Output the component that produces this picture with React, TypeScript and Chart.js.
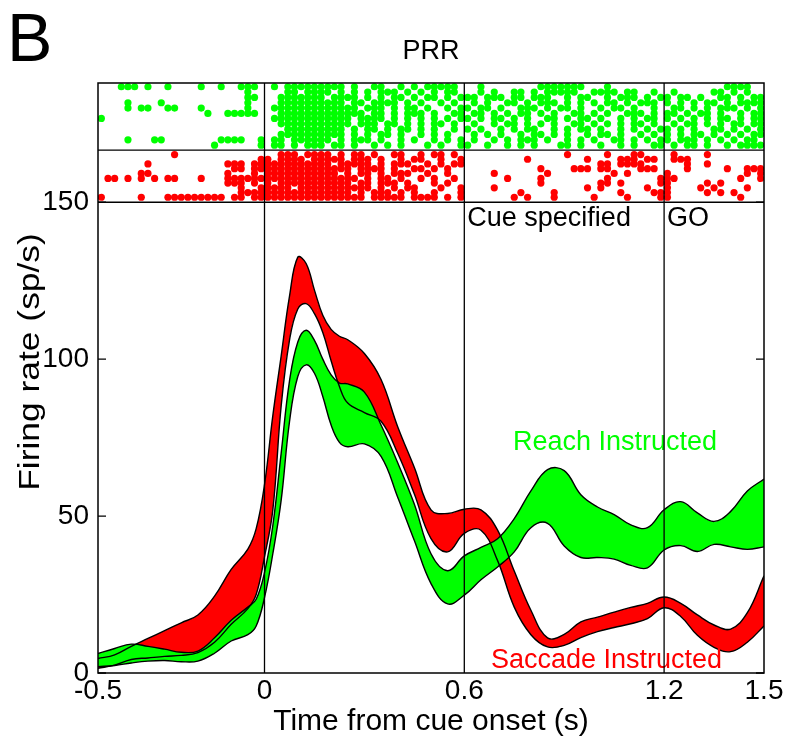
import React, { useEffect, useRef } from 'react';
import { Chart, registerables } from 'chart.js';

Chart.register(...registerables);

const FONT = "'Liberation Sans', Arial, Helvetica, sans-serif";

// ---- firing-rate bands (sp/s) on a shared time grid (s) ----
const timeGrid = [-0.5, -0.45, -0.4, -0.35, -0.3, -0.25, -0.2, -0.15, -0.1, -0.05, -0.025, 0, 0.025, 0.05, 0.075, 0.1, 0.125, 0.15, 0.175, 0.2, 0.225, 0.25, 0.3, 0.35, 0.4, 0.45, 0.5, 0.55, 0.6, 0.65, 0.7, 0.75, 0.8, 0.85, 0.9, 0.95, 1.0, 1.05, 1.1, 1.15, 1.2, 1.25, 1.3, 1.35, 1.4, 1.45, 1.5];

const reachUpper = [6.2, 7.8, 9.2, 8.5, 7.6, 6.6, 7.0, 11.2, 16.8, 21, 23.5, 32, 47, 70, 93, 105.5, 109.2, 106, 100, 95, 92.4, 92.1, 89.5, 79, 67, 53.8, 38, 32.6, 37.3, 40, 42.8, 49.2, 58, 64.8, 64.5, 56.8, 52.9, 50.5, 47.2, 46.3, 52, 54.6, 51, 48.3, 51.5, 58, 61.8];
const reachLower = [2, 2.4, 3.2, 3.8, 4.0, 3.6, 3.8, 6.3, 10.2, 12.2, 15, 24, 38, 55, 80, 94.5, 98.2, 95.5, 88.1, 79, 73.5, 72.1, 73, 69, 56, 42.2, 28.5, 22, 24.8, 29.7, 33.8, 38.6, 46.3, 47.7, 40.5, 36.8, 36.8, 36.3, 34.3, 33.5, 39.2, 40.6, 38.7, 41, 40.2, 39.4, 40.2];
const saccadeUpper = [4.6, 5.8, 8.5, 11, 13.5, 16, 18.5, 24.5, 33, 39.5, 46, 60, 82, 101, 120, 132.5, 130.5, 122, 114, 109.5, 107.3, 106.2, 101.8, 93.5, 78.5, 65.5, 52, 50.8, 52.2, 52, 45.5, 32.5, 20, 11.2, 12.3, 16.3, 17.8, 19.4, 20.9, 22.2, 24.2, 22.2, 18.5, 15.3, 14, 19.2, 31];
const saccadeLower = [1.5, 2.5, 4.3, 4.8, 5.3, 5.6, 6.5, 9.8, 15.5, 20.5, 25, 37, 52, 85, 106, 116, 117.7, 114.5, 108.5, 99.5, 91.3, 86, 83, 80.2, 70, 57, 42.8, 38.6, 44.5, 45.5, 35.8, 21, 12.2, 8.3, 8.8, 11.3, 13.2, 14.5, 15.7, 17.3, 20.8, 18, 12, 8.2, 6.8, 9.8, 15];

// ---- raster: one string per trial row, '#' = spike in a 20 ms bin ----
// segments: [-0.5,0) | [0,0.6) | [0.6,1.2) | [1.2,1.5)
const segmentStarts = [-0.5, 0, 0.6, 1.2];
const spikeBin = 0.02;

const reachRows = [
  '...###.#..#....#..#..###.|.#.#########.#..##..#.#.#####.|..#........#######...#........|.........####..',
  '......................#..|...##.####.#.#.#.###.#.#.#.##.|..#.#..##.#.#####..####.##..#.|.#.....##.#.#..',
  '......................##.|..#######.####.#.#.##.#.##.#.#|##.###.##.###..#.##..#.###.#.#|#.##.#..##.#.##',
  '....#....#............#..|..##########.##.####.#.#..#.#.|.#.#..##.#.###.#.#.#.##.#.###|#.#.#.##.#.####',
  '....#.##..##...#......#..|.#############.###.#.##.#..#.#|#.##.#..###.#.##.#..#.##.#..#.|.##.#.#.###.#.#',
  '................#..#####.|..#############.##.#.###.#..##|.##.#.#.##.#.#..##.#.#..###.#.|##.#.##.#..#.##',
  '#........................|.############.####.#.#.#.#.#.#|#.#.##.#.#..##.#.##.#..#.#.##.|#.#.#.#.##.#.##',
  '.........................|..###########.###.##.#.#.##.#.|.#..#.##.#.#.#..##.#.#.#.##.#.|.#.##.#.#.##.##',
  '.........................|...#########.#.##.#.##.#.#..#.|#.#..#.#.##..#.#.##.#..#.#.#.#|#.#.#..##.#.#.#',
  '.........................|..##########.#.#.##.#..#.#.#..|.#.#.#..#.##.#.#..#.##.#..#.#.|#.#.##.#.#.#.##',
  '....#...##........####..#|.##.######.#.###.#..#.#..#.#.#|.#..#.#.###.#..#.#.#..##.#.#.#|#.###.#.#.#.##.',
  '.................#......#|.##.#.###.##.#..#.#.#...#.#..#|#..#..#.#.#...##.#..#..#.#..##|.#.##.#..#.####',
];
const saccadeRows = [
  '...........#.............|..###.####.#.##.#..##..#.##.#.|...............#.....#...##...|.#....#........',
  '........................#|#.####.#####.###.#..#.##..#..#|.........#........#....###.##.|.###...........',
  '.......#...........###.##|##########.#####.#.###..#.#.##|....................##.####...|...#..#........',
  '....................##.##|#############.####.#..##.#.#..|...........#....###.##....###.|...#.....#..###',
  '......##...........#...#.|###########.#.##.#.###..#..#..|....#.......#.........#.#.....|#...........#.#',
  '.##.#.#.#.##...#...######|##############.#.##.#..#.#..#.|......#....#.........#.......#|##.........#..#',
  '...................###.#.|#.###########.##.###.#...#.#..|...........#........##.#.....#|#.....#.#......',
  '.....................#..#|####.###########.#.#.##...#..#|....#.............#.#......#..|#....#.#....#..',
  '.....................####|#############.#.###.#.#..#...#|........#....#.........#....##|#.....#.#.#....',
  '#.....#...#########.##.##|###############.#####.####.#.#|.......#.#...#.....#....#....#|#..........#...',
];
const reachRowY = [186.8, 185.1, 183.4, 181.7, 180.0, 178.3, 176.7, 175.0, 173.3, 171.6, 169.9, 168.2];
const saccadeRowY = [165.2, 163.7, 162.2, 160.7, 159.2, 157.6, 156.1, 154.6, 153.1, 151.6];

// ---- axes / annotations ----
const xTickValues = [-0.5, 0, 0.6, 1.2, 1.5];
const xTickLabels = ['-0.5', '0', '0.6', '1.2', '1.5'];
const yTickValues = [0, 50, 100, 150];
const yTickLabels = ['0', '50', '100', '150'];
const eventTimes = [0, 0.6, 1.2];
const rasterDividers = [150, 166.6];
const xMin = -0.5;
const xMax = 1.5;
const yMax = 188;
const eventLabels = ['Cue specified', 'GO'];
const eventLabelTimes = [0.6, 1.2];
const eventLabelY = 142.4;
const seriesLabels = ['Reach Instructed', 'Saccade Instructed'];
const seriesLabelAnchors = [{ x: 0.746, y: 71 }, { x: 0.68, y: 1.6 }];
const panelLetter = 'B';
const panelTitle = 'PRR';
const xTitle = 'Time from cue onset (s)';
const yTitle = 'Firing rate (sp/s)';

const GREEN = '#00ff00';
const RED = '#ff0000';

function rasterPoints(rows: string[], rowY: number[]) {
  const pts: { x: number; y: number }[] = [];
  rows.forEach((row, r) => {
    row.split('|').forEach((seg, k) => {
      for (let j = 0; j < seg.length; j++) {
        if (seg[j] === '#') pts.push({ x: segmentStarts[k] + (j + 0.5) * spikeBin, y: rowY[r] });
      }
    });
  });
  return pts;
}

const toXY = (ys: number[]) => timeGrid.map((t, i) => ({ x: t, y: ys[i] }));

const overlayPlugin = {
  id: 'overlay',
  beforeDraw(chart: any) {
    const { ctx, chartArea: a, scales } = chart;
    const y = scales.y;
    ctx.save();
    ctx.strokeStyle = '#000';
    ctx.lineWidth = 1.3;
    for (const v of yTickValues) {
      const py = y.getPixelForValue(v);
      ctx.beginPath();
      ctx.moveTo(a.left, py);
      ctx.lineTo(a.left + 8, py);
      ctx.moveTo(a.right - 8, py);
      ctx.lineTo(a.right, py);
      ctx.stroke();
    }
    ctx.restore();
  },
  afterDatasetsDraw(chart: any) {
    const { ctx, chartArea: a, scales } = chart;
    const x = scales.x;
    const y = scales.y;
    ctx.save();
    ctx.textAlign = 'left';
    ctx.textBaseline = 'alphabetic';
    ctx.font = `27px ${FONT}`;
    ctx.fillStyle = '#000';
    eventLabels.forEach((lab, i) => {
      ctx.fillText(lab, x.getPixelForValue(eventLabelTimes[i]) + 3, y.getPixelForValue(eventLabelY));
    });
    seriesLabels.forEach((lab, i) => {
      ctx.fillStyle = i === 0 ? GREEN : RED;
      ctx.fillText(lab, x.getPixelForValue(seriesLabelAnchors[i].x), y.getPixelForValue(seriesLabelAnchors[i].y));
    });
    ctx.strokeStyle = '#000';
    ctx.lineWidth = 1.3;
    ctx.beginPath();
    for (const t of eventTimes) {
      const px = x.getPixelForValue(t);
      ctx.moveTo(px, a.top);
      ctx.lineTo(px, a.bottom);
    }
    for (const v of rasterDividers) {
      const py = y.getPixelForValue(v);
      ctx.moveTo(a.left, py);
      ctx.lineTo(a.right, py);
    }
    ctx.stroke();
    ctx.lineWidth = 1.5;
    ctx.strokeRect(a.left, a.top, a.right - a.left, a.bottom - a.top);
    ctx.restore();
  },
  afterDraw(chart: any) {
    const { ctx, chartArea: a } = chart;
    ctx.save();
    ctx.fillStyle = '#000';
    ctx.textBaseline = 'alphabetic';
    ctx.textAlign = 'left';
    ctx.font = `68px ${FONT}`;
    ctx.fillText(panelLetter, 7, 61);
    ctx.textAlign = 'center';
    ctx.textBaseline = 'middle';
    ctx.font = `27px ${FONT}`;
    ctx.fillText(panelTitle, (a.left + a.right) / 2, 52);
    ctx.font = `30px ${FONT}`;
    ctx.fillText(xTitle, (a.left + a.right) / 2, 722);
    ctx.translate(31, 362);
    ctx.rotate(-Math.PI / 2);
    ctx.scale(1.18, 1);
    ctx.fillText(yTitle, 0, 0);
    ctx.restore();
  },
};

export default function App() {
  const ref = useRef<HTMLCanvasElement>(null);
  useEffect(() => {
    const canvas = ref.current;
    if (!canvas) return;
    const band = (ys: number[], fill: any, color: string) => ({
      data: toXY(ys),
      borderColor: '#000',
      borderWidth: 1.4,
      backgroundColor: color,
      fill,
      pointRadius: 0,
      tension: 0.4,
    });
    const raster = (pts: any[], color: string) => ({
      data: pts,
      showLine: false,
      pointRadius: 3.6,
      pointBorderWidth: 0,
      pointBackgroundColor: color,
      pointBorderColor: color,
      backgroundColor: color,
      borderColor: color,
      fill: false,
    });
    const chart = new Chart(canvas, {
      type: 'line',
      data: {
        datasets: [
          band(reachUpper, '+1', GREEN),
          band(reachLower, false, GREEN),
          band(saccadeUpper, '+1', RED),
          band(saccadeLower, false, RED),
          raster(rasterPoints(reachRows, reachRowY), GREEN),
          raster(rasterPoints(saccadeRows, saccadeRowY), RED),
        ] as any,
      },
      options: {
        responsive: false,
        devicePixelRatio: 1,
        animation: false,
        events: [],
        layout: { padding: { top: 83, right: 25, left: 0, bottom: 0 } },
        plugins: {
          legend: { display: false },
          tooltip: { enabled: false },
          title: { display: false },
          filler: { drawTime: 'beforeDatasetsDraw', propagate: false },
        } as any,
        scales: {
          x: {
            type: 'linear',
            min: xMin,
            max: xMax,
            afterBuildTicks: (s: any) => {
              s.ticks = xTickValues.map((v) => ({ value: v }));
            },
            afterFit: (s: any) => {
              s.height = 77;
              s.paddingLeft = 0;
              s.paddingRight = 0;
            },
            ticks: {
              autoSkip: false,
              maxRotation: 0,
              minRotation: 0,
              padding: 1,
              color: '#000',
              font: { family: FONT, size: 28 },
              callback: (_v: any, i: number) => xTickLabels[i],
            },
            grid: { display: false, drawTicks: false },
            border: { display: false },
          },
          y: {
            type: 'linear',
            min: 0,
            max: yMax,
            afterBuildTicks: (s: any) => {
              s.ticks = yTickValues.map((v) => ({ value: v }));
            },
            afterFit: (s: any) => {
              s.width = 98;
              s.paddingTop = 0;
              s.paddingBottom = 0;
            },
            ticks: {
              autoSkip: false,
              padding: 9,
              color: '#000',
              font: { family: FONT, size: 28 },
              callback: (_v: any, i: number) => yTickLabels[i],
            },
            grid: { display: false, drawTicks: false },
            border: { display: false },
          },
        } as any,
      },
      plugins: [overlayPlugin],
    });
    return () => chart.destroy();
  }, []);
  return (
    <div style={{ position: 'absolute', left: 0, top: 0, width: 789, height: 750, background: '#fff' }}>
      <canvas ref={ref} width={789} height={750} style={{ display: 'block', width: 789, height: 750 }} />
    </div>
  );
}
